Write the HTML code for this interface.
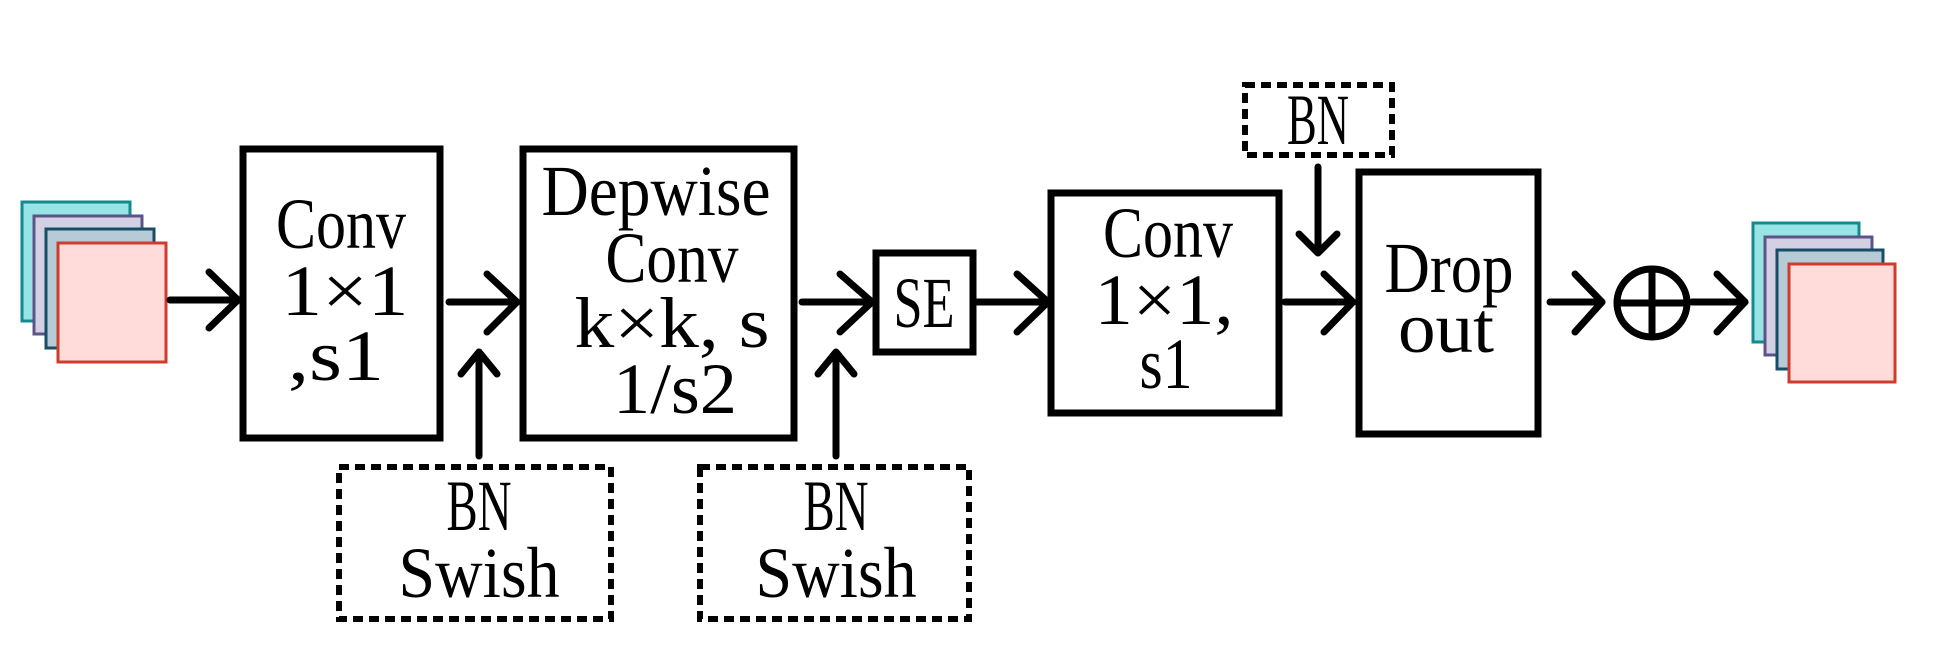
<!DOCTYPE html>
<html><head><meta charset="utf-8"><style>
html,body{margin:0;padding:0;background:#fff;}
svg{display:block;}
text{font-family:"Liberation Serif",serif;font-size:72px;fill:#000;text-anchor:middle;}
</style></head><body>
<svg width="1942" height="655" viewBox="0 0 1942 655" xmlns="http://www.w3.org/2000/svg">
<g stroke-width="3">
<rect x="22" y="202" width="108" height="119" fill="#98e4e4" stroke="#138a8f"/>
<rect x="34" y="216" width="108" height="118" fill="#d3d0e4" stroke="#5c5388"/>
<rect x="46" y="229" width="108" height="119" fill="#b7cbd6" stroke="#174d66"/>
<rect x="58" y="243" width="108" height="119" fill="#ffdcd9" stroke="#cf3b2c"/>
<rect x="1753" y="223" width="106" height="119" fill="#98e4e4" stroke="#138a8f"/>
<rect x="1765" y="237" width="107" height="118" fill="#d3d0e4" stroke="#5c5388"/>
<rect x="1777" y="250" width="106" height="119" fill="#b7cbd6" stroke="#174d66"/>
<rect x="1789" y="264" width="106" height="118" fill="#ffdcd9" stroke="#cf3b2c"/>
</g>
<g fill="none" stroke="#000" stroke-width="7">
<rect x="243" y="149" width="197" height="289"/>
<rect x="523" y="149" width="271" height="289"/>
<rect x="876" y="253" width="97" height="99"/>
<rect x="1051" y="193" width="228" height="220"/>
<rect x="1359" y="172" width="179" height="262"/>
<ellipse cx="1652" cy="303" rx="35" ry="34"/>
<line x1="1652" y1="269" x2="1652" y2="337"/>
<line x1="1617" y1="303" x2="1687" y2="303"/>
</g>
<g fill="none" stroke="#000" stroke-width="6" stroke-dasharray="10 6">
<rect x="339" y="467" width="272" height="152"/>
<rect x="700" y="467" width="269" height="152"/>
<rect x="1245" y="85" width="147" height="70"/>
</g>
<g fill="none" stroke="#000" stroke-width="7" stroke-linecap="round" stroke-linejoin="round">
<line x1="170" y1="300" x2="238" y2="300"/><polyline points="209,272 238,300 209,328"/>
<line x1="449" y1="302" x2="517" y2="302"/><polyline points="487,274 517,302 487,332"/>
<line x1="802" y1="302" x2="872" y2="302"/><polyline points="840,274 872,302 840,332"/>
<line x1="977" y1="302" x2="1048" y2="302"/><polyline points="1017,274 1048,302 1017,332"/>
<line x1="1285" y1="302" x2="1353" y2="302"/><polyline points="1324,274 1353,302 1324,332"/>
<line x1="1550" y1="302" x2="1602" y2="302"/><polyline points="1575,274 1602,302 1575,332"/>
<line x1="1692" y1="302" x2="1745" y2="302"/><polyline points="1717,274 1745,302 1717,332"/>
<line x1="479" y1="456" x2="479" y2="353"/><polyline points="461,374 479,352 497,374"/>
<line x1="836" y1="456" x2="836" y2="353"/><polyline points="818,374 836,352 854,374"/>
<line x1="1318" y1="167" x2="1318" y2="252"/><polyline points="1299,234 1318,253 1337,234"/>
</g>
<g>
<text x="341" y="248" textLength="130" lengthAdjust="spacingAndGlyphs">Conv</text>
<text x="345" y="315" textLength="127" lengthAdjust="spacingAndGlyphs">1×1</text>
<text x="336" y="380" textLength="96" lengthAdjust="spacingAndGlyphs">,s1</text>
<text x="656" y="215" textLength="229" lengthAdjust="spacingAndGlyphs">Depwise</text>
<text x="672" y="282" textLength="133" lengthAdjust="spacingAndGlyphs">Conv</text>
<text x="672" y="347" textLength="195" lengthAdjust="spacingAndGlyphs">k×k, s</text>
<text x="675" y="413" textLength="124" lengthAdjust="spacingAndGlyphs">1/s2</text>
<text x="479" y="530" textLength="65" lengthAdjust="spacingAndGlyphs">BN</text>
<text x="479" y="597" textLength="161" lengthAdjust="spacingAndGlyphs">Swish</text>
<text x="836" y="530" textLength="65" lengthAdjust="spacingAndGlyphs">BN</text>
<text x="836" y="597" textLength="161" lengthAdjust="spacingAndGlyphs">Swish</text>
<text x="924" y="327" textLength="61" lengthAdjust="spacingAndGlyphs">SE</text>
<text x="1168" y="257" textLength="130" lengthAdjust="spacingAndGlyphs">Conv</text>
<text x="1164" y="324" textLength="139" lengthAdjust="spacingAndGlyphs">1×1,</text>
<text x="1166" y="388" textLength="53" lengthAdjust="spacingAndGlyphs">s1</text>
<text x="1318" y="144" textLength="62" lengthAdjust="spacingAndGlyphs">BN</text>
<text x="1449" y="292" textLength="129" lengthAdjust="spacingAndGlyphs">Drop</text>
<text x="1446" y="352" textLength="96" lengthAdjust="spacingAndGlyphs">out</text>
</g>
</svg>
</body></html>
